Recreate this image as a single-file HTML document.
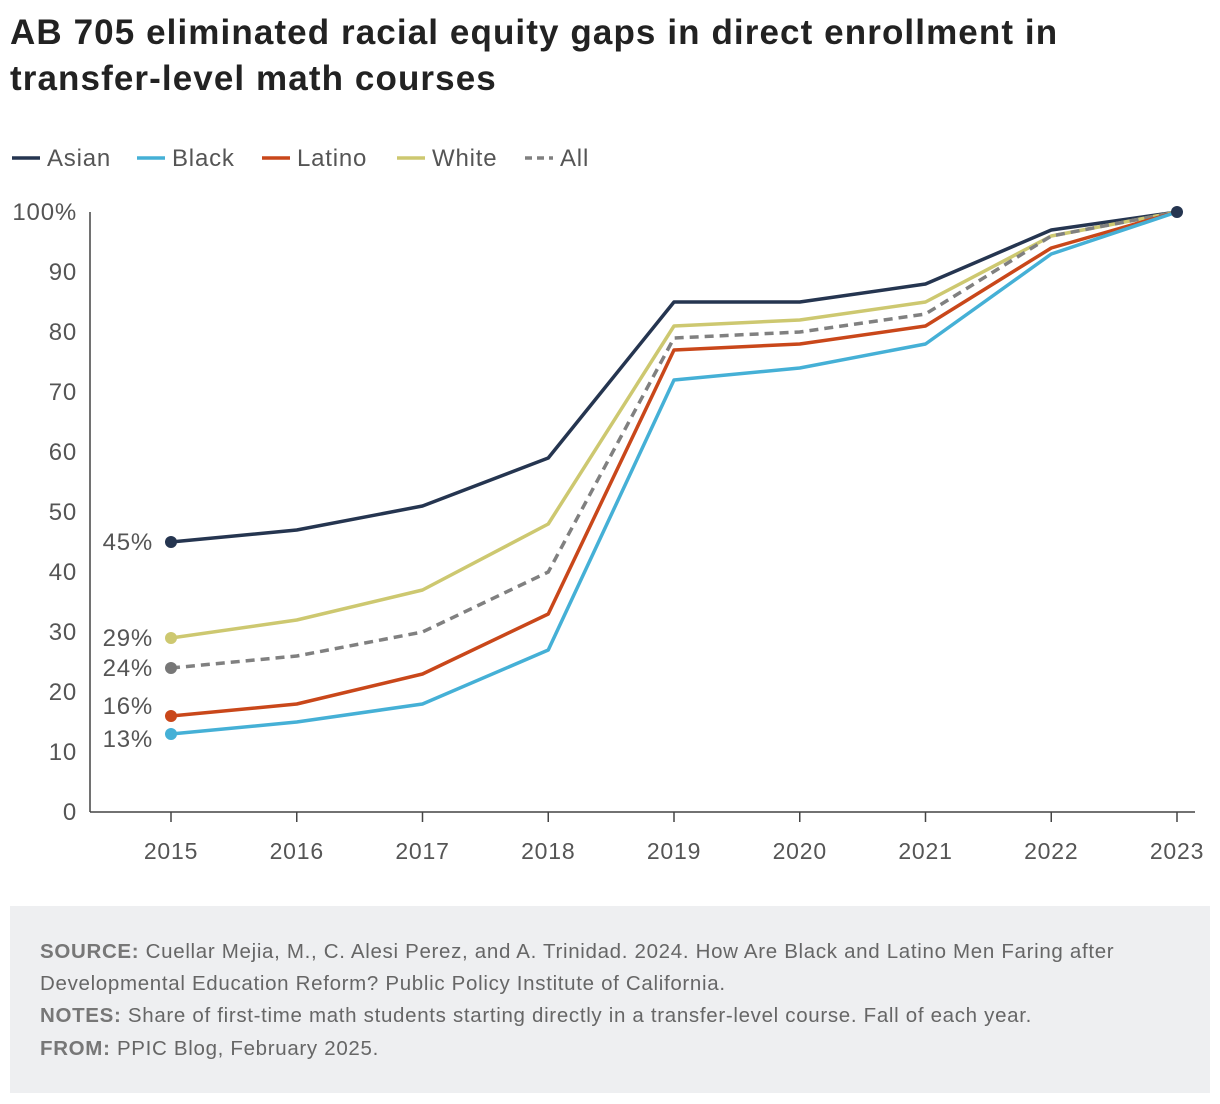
<!DOCTYPE html>
<html><head><meta charset="utf-8"><style>
body{margin:0;width:1220px;height:1104px;background:#fff;font-family:"Liberation Sans",sans-serif;position:relative;overflow:hidden}
h1{position:absolute;left:10px;top:10px;margin:0;font-size:35px;line-height:46px;font-weight:bold;color:#222;width:1200px;letter-spacing:1.1px;white-space:nowrap}
.foot{position:absolute;left:10px;top:906px;width:1200px;height:187px;background:#eeeff1}
.foot p{margin:0;position:absolute;left:30px;font-size:20.5px;color:#666;line-height:32px;letter-spacing:0.68px;white-space:nowrap}
.foot b{color:#777}
text{letter-spacing:0.8px}
</style></head><body>
<h1>AB 705 eliminated racial equity gaps in direct enrollment in<br>transfer-level math courses</h1>
<svg id="chart" width="1220" height="900" style="position:absolute;left:0;top:0"></svg>
<div class="foot">
<p style="top:30px"><b>SOURCE:</b> Cuellar Mejia, M., C. Alesi Perez, and A. Trinidad. 2024. How Are Black and Latino Men Faring after<br>Developmental Education Reform? Public Policy Institute of California.</p>
<p style="top:94px"><b>NOTES:</b> Share of first-time math students starting directly in a transfer-level course. Fall of each year.</p>
<p style="top:127px"><b>FROM:</b> PPIC Blog, February 2025.</p>
</div>
<script>
const years=[2015,2016,2017,2018,2019,2020,2021,2022,2023];
const yTicks=[0,10,20,30,40,50,60,70,80,90,100];
const asian=[45,47,51,59,85,85,88,97,100];
const white=[29,32,37,48,81,82,85,96,100];
const all=[24,26,30,40,79,80,83,96,100];
const latino=[16,18,23,33,77,78,81,94,100];
const black=[13,15,18,27,72,74,78,93,100];
const svg=document.getElementById('chart');const NS='http://www.w3.org/2000/svg';
function x(i){return 171+i*(1177-171)/(years.length-1);}
function y(v){return 812-v*6;}
function mk(t,a,p){const e=document.createElementNS(NS,t);for(const k in a)e.setAttribute(k,a[k]);(p||svg).appendChild(e);return e;}
let ax=mk('line',{x1:90,y1:212,x2:90,y2:812,stroke:'#444','stroke-width':1.5});


ax=mk('line',{x1:90,y1:812,x2:1195,y2:812,stroke:'#444','stroke-width':1.5});


yTicks.forEach(v=>{const t=mk('text',{x:77,y:y(v)+8,'text-anchor':'end','font-size':24,fill:'#555'});t.textContent=v+(v===100?'%':'');

});
years.forEach((yr,i)=>{mk('line',{x1:x(i),y1:812,x2:x(i),y2:822,stroke:'#444','stroke-width':1.5});
const t=mk('text',{x:x(i),y:859,'text-anchor':'middle','font-size':23,fill:'#555'});t.textContent=yr;

});
const series=[['Asian',asian,'#253550',0],['White',white,'#cdc870',0],['All',all,'#808080',1],['Latino',latino,'#c9471a',0],['Black',black,'#45b0d6',0]];
series.forEach(([n,d,c,dash])=>{
const p=mk('polyline',{points:d.map((v,i)=>x(i)+','+y(v)).join(' '),fill:'none',stroke:c,'stroke-width':3.5,'stroke-dasharray':dash?'9 6':'none','stroke-linejoin':'round'});


const dt=mk('circle',{cx:x(0),cy:y(d[0]),r:6,fill:dash?'#777':c});


const lbl=mk('text',{x:153,y:y(d[0])+(n==='Latino'?-2:n==='Black'?13:8),'text-anchor':'end','font-size':24,fill:'#555'});lbl.textContent=d[0]+'%';


});
const endDot=mk('circle',{cx:x(8),cy:y(100),r:6,fill:'#253550'});


const leg=[['Asian','#253550',12,0],['Black','#45b0d6',137,0],['Latino','#c9471a',262,0],['White','#cdc870',397,0],['All','#808080',525,1]];
leg.forEach(([n,c,lx,dash])=>{const g=mk('g',{});


mk('line',{x1:lx,y1:158,x2:lx+28,y2:158,stroke:c,'stroke-width':3.5,'stroke-dasharray':dash?'7 5':'none'},g);
const t=mk('text',{x:lx+35,y:166,'font-size':24,fill:'#555'},g);t.textContent=n;});
</script>
</body></html>
